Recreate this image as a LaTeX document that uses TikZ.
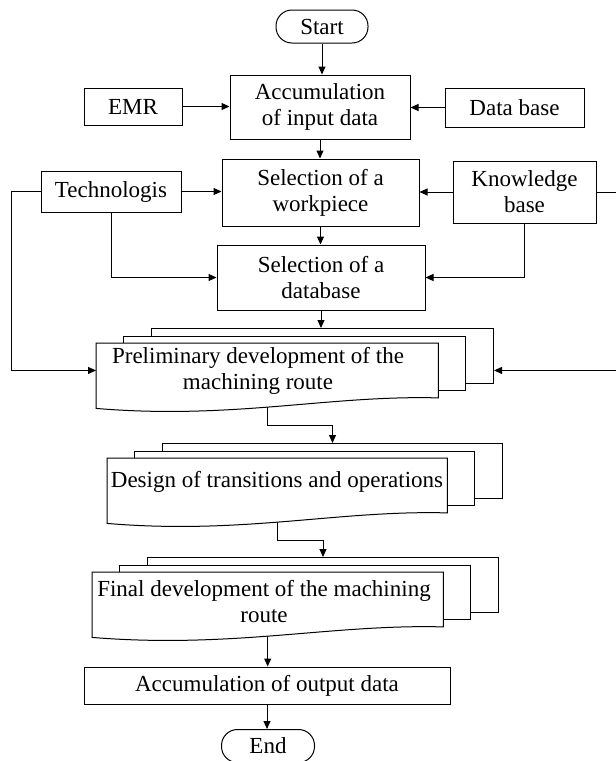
\documentclass[tikz,border=0pt]{standalone}
\usepackage{fontspec}
\setmainfont{Liberation Serif}
\usetikzlibrary{arrows.meta,backgrounds,calc}
\tikzset{
  every node/.style={font=\fontsize{23}{26}\selectfont, inner sep=0pt, align=center},
  box/.style={draw, line width=1pt, fill=white},
  term/.style={box, rounded corners=16pt},
  ghost/.style={draw=none},
  backbox/.style={draw, line width=1pt, fill=white},
  docline/.style={draw, line width=1pt, fill=white},
  arr/.style={line width=1pt, -{Triangle[length=8pt,width=7pt]}},
}
% #1 name, #2 left, #3 top, #4 width
\newcommand\docstack[4]{%
  \node[backbox, minimum width=#4pt, minimum height=54.5pt, anchor=north west] (#1B) at (#2+55,#3-15) {};
  \node[backbox, minimum width=#4pt, minimum height=54.5pt, anchor=north west] (#1M) at (#2+27,#3-7.5) {};
  \node[ghost, minimum width=#4pt, minimum height=54.5pt, anchor=north west] (#1F) at (#2,#3) {};
  \path[docline] (#1F.north west) -- (#1F.north east) -- (#1F.south east)
    .. controls ($(#1F.south east)+(-0.32*#4,-3)$) and ($(#1F.south west)+(0.4*#4,22)$) ..
    ($(#1F.south west)+(0,10.5)$) -- cycle;
}
\begin{document}
\begin{tikzpicture}[x=1pt,y=-1pt]
\useasboundingbox (0,0) rectangle (616,761);

% top nodes
\node[term, minimum width=92pt, minimum height=33pt] (start) at (322,26.5) {Start};
\node[box, minimum width=180pt, minimum height=64pt] (acc) at (320,107) {Accumulation\\of input data};
\node[box, minimum width=98pt, minimum height=37pt] (emr) at (133,106.5) {EMR};
\node[box, minimum width=139pt, minimum height=39pt] (db) at (514.5,107.5) {Data base};
\node[box, minimum width=140pt, minimum height=41pt] (tech) at (111,191.5) {Technologis};
\node[box, minimum width=197pt, minimum height=67pt] (wp) at (320.5,192.5) {Selection of a\\workpiece};
\node[box, minimum width=143pt, minimum height=62pt] (kb) at (524.5,192) {Knowledge\\base};
\node[box, minimum width=208pt, minimum height=65pt] (dbsel) at (321,277.5) {Selection of a\\database};

% document stacks
\docstack{pre}{96}{343}{342}
\node (preT) at (258,371) {Preliminary development of the\\machining route};
\docstack{des}{107}{458}{340}
\node (desT) at (277,482) {Design of transitions and operations};
\docstack{fin}{92}{572}{351}
\node (finT) at (264,601.5) {Final development of the machining\\route};

% bottom nodes
\node[box, minimum width=366pt, minimum height=37pt] (out) at (267,685.5) {Accumulation of output data};
\node[term, minimum width=93pt, minimum height=33pt] (end) at (268,746) {End};

\coordinate (rt) at (640,0);

% connectors
\draw[arr] (start.south) -- (start.south |- acc.north);
\draw[arr] (emr.east) -- (emr.east -| acc.west);
\draw[arr] (db.west) -- (db.west -| acc.east);
\draw[arr] (acc.south) -- (acc.south |- wp.north);
\draw[arr] (tech.east) -- (tech.east -| wp.west);
\draw[arr] (kb.west) -- (kb.west -| wp.east);
\draw[arr] (wp.south) -- (wp.south |- dbsel.north);
\draw[arr] (tech.south) |- (dbsel.west);
\draw[arr] (kb.south) |- (dbsel.east);
\draw[arr] (dbsel.south) -- (dbsel.south |- preB.north);
\draw[arr] (tech.west) -- ++(-29,0) |- (preF.west);
\draw[arr] (kb.east) -- (kb.east -| rt) -- (rt |- preF.west) -- (preB.east |- preF.west);
\begin{scope}[on background layer]
\draw[arr] (preF.south) -- ++(0,27.5) -| (desB.north);
\draw[arr] (desF.south) -- ++(0,27.5) -| (finB.north);
\draw[arr] (finF.south) -- (finF.south |- out.north);
\end{scope}
\draw[arr] (out.south) -- (out.south |- end.north);
\end{tikzpicture}
\end{document}
